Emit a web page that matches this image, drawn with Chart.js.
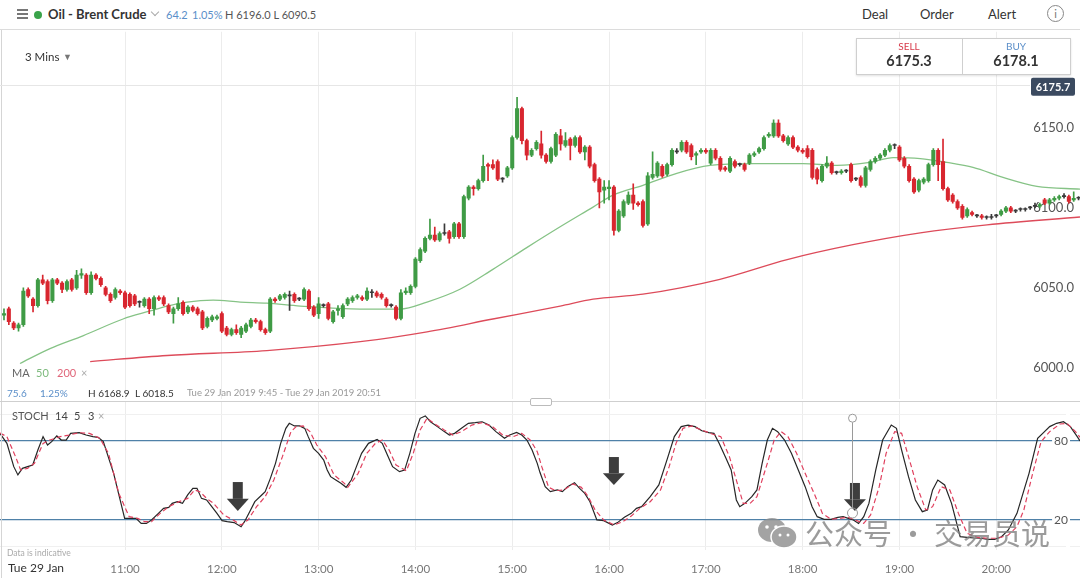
<!DOCTYPE html>
<html>
<head>
<meta charset="utf-8">
<script src="https://cdn.jsdelivr.net/npm/chart.js@4.4.0/dist/chart.umd.min.js"></script>
<style>
  body { margin:0; width:1080px; height:578px; overflow:hidden; background:#fff; position:relative; font-family: Lato, "Open Sans", sans-serif; }
  canvas { position:absolute; left:0; }
  .t { position:absolute; white-space:nowrap; line-height:1; }
  .ln { position:absolute; }
</style>
</head>
<body>
<canvas id="price" width="1080" height="371" style="top:30px"></canvas>
<canvas id="stoch" width="1080" height="176" style="top:402px"></canvas>

<!-- header -->
<div class="ln" style="left:17px;top:9px;width:11px;height:1.5px;background:#777"></div>
<div class="ln" style="left:17px;top:13px;width:11px;height:1.5px;background:#777"></div>
<div class="ln" style="left:17px;top:17px;width:11px;height:1.5px;background:#777"></div>
<div class="ln" style="left:34px;top:11px;width:8px;height:8px;border-radius:50%;background:#3aa34a"></div>
<div class="t" style="left:48px;top:8px;font-size:13px;font-weight:bold;color:#333">Oil - Brent Crude</div>
<div class="ln" style="left:152px;top:9px;width:5px;height:5px;border-right:1.2px solid #aaa;border-bottom:1.2px solid #aaa;transform:rotate(45deg)"></div>
<div class="t" style="left:166px;top:9px;font-size:11px;color:#5b8fc9">64.2</div>
<div class="t" style="left:192px;top:9px;font-size:11px;color:#5b8fc9">1.05%</div>
<div class="t" style="left:225px;top:9px;font-size:11px;color:#555">H 6196.0 L 6090.5</div>
<div class="t" style="left:862px;top:8px;font-size:13px;color:#333">Deal</div>
<div class="t" style="left:920px;top:8px;font-size:13px;color:#333">Order</div>
<div class="t" style="left:988px;top:8px;font-size:13px;color:#333">Alert</div>
<div class="ln" style="left:1047px;top:5px;width:15px;height:15px;border:1px solid #888;border-radius:50%;text-align:center;font-size:11px;line-height:15px;color:#777">i</div>
<div class="ln" style="left:0;top:29px;width:1080px;height:1px;background:#dcdcdc"></div>
<div class="ln" style="left:1px;top:30px;width:1px;height:548px;background:#d5d5d5"></div>

<div class="t" style="left:25px;top:51px;font-size:11.5px;color:#333">3 Mins</div>
<div class="t" style="left:63px;top:52px;font-size:9px;color:#777">&#9660;</div>
<div class="ln" style="left:0;top:85px;width:1030px;height:1px;background:#e6e6e6"></div>

<div class="ln" style="left:856px;top:38px;width:213px;height:35px;border:1px solid #cfcfcf;background:#fff;box-shadow:0 1px 2px rgba(0,0,0,0.12)"></div>
<div class="ln" style="left:962px;top:39px;width:1px;height:35px;background:#cfcfcf"></div>
<div class="t" style="left:856px;width:106px;text-align:center;top:41px;font-size:10px;color:#d63a4a">SELL</div>
<div class="t" style="left:856px;width:106px;text-align:center;top:54px;font-size:14.5px;font-weight:bold;color:#333">6175.3</div>
<div class="t" style="left:963px;width:106px;text-align:center;top:41px;font-size:10px;color:#5b8fc9">BUY</div>
<div class="t" style="left:963px;width:106px;text-align:center;top:54px;font-size:14.5px;font-weight:bold;color:#333">6178.1</div>

<!-- main panel legends -->
<div class="t" style="left:12px;top:367px;font-size:11px;color:#666">MA</div>
<div class="t" style="left:36px;top:367px;font-size:11px;color:#7dba7d">50</div>
<div class="t" style="left:57px;top:367px;font-size:11px;color:#e0667a">200</div>
<div class="t" style="left:81px;top:367px;font-size:11px;color:#aaa">&#215;</div>
<div class="t" style="left:7px;top:388px;font-size:10px;color:#5b8fc9">75.6</div>
<div class="t" style="left:40px;top:388px;font-size:10px;color:#5b8fc9">1.25%</div>
<div class="t" style="left:88px;top:388px;font-size:10px;color:#333">H 6168.9</div>
<div class="t" style="left:135px;top:388px;font-size:10px;color:#333">L 6018.5</div>
<div class="t" style="left:187px;top:388px;font-size:9.5px;color:#999">Tue 29 Jan 2019 9:45 - Tue 29 Jan 2019 20:51</div>

<div class="ln" style="left:0;top:401px;width:1080px;height:1px;background:#cfcfcf"></div>
<div class="ln" style="left:530px;top:398px;width:20px;height:6px;border:1px solid #bbb;border-radius:2px;background:#fff"></div>

<!-- stoch panel legends -->
<div class="t" style="left:12px;top:410px;font-size:11px;color:#555">STOCH</div>
<div class="t" style="left:55px;top:410px;font-size:11px;color:#444">14</div>
<div class="t" style="left:74px;top:410px;font-size:11px;color:#444">5</div>
<div class="t" style="left:88px;top:410px;font-size:11px;color:#444">3</div>
<div class="t" style="left:98px;top:410px;font-size:11px;color:#aaa">&#215;</div>
<div class="t" style="left:7px;top:549px;font-size:8.5px;color:#aaa">Data is indicative</div>
<div class="t" style="left:8px;top:562px;font-size:12px;color:#333">Tue 29 Jan</div>

<!-- watermark -->
<svg style="position:absolute;left:757px;top:517px;opacity:0.8" width="42" height="32" viewBox="0 0 42 32">
  <ellipse cx="15" cy="13" rx="14" ry="12" fill="#8d8d8d"/>
  <ellipse cx="27" cy="20" rx="13" ry="11" fill="#8d8d8d" stroke="#fff" stroke-width="1.5"/>
  <circle cx="10" cy="10" r="1.8" fill="#fff"/><circle cx="19" cy="10" r="1.8" fill="#fff"/>
  <circle cx="23" cy="18" r="1.5" fill="#fff"/><circle cx="31" cy="18" r="1.5" fill="#fff"/>
</svg>
<div class="t" style="left:805px;top:518px;font-size:29px;color:rgba(130,130,130,0.8);font-family:'Noto Sans CJK SC'">公众号 · 交易员说</div>

<script>
// 3-minute bars, bar 0 = 9:45
const hourBars = [25, 45, 65, 85, 105, 125, 145, 165, 185, 205];
const hourLabels = ['11:00', '12:00', '13:00', '14:00', '15:00', '16:00', '17:00', '18:00', '19:00', '20:00'];
const priceTicks = [6000, 6050, 6100, 6150];
const stochLevels = [0, 20, 80, 100];
const lastPrice = 6175.7;

const opens = [6033,6037,6028,6025,6027,6049,6043,6039,6055,6054, 6042,6055,6053,6049,6055,6050,6058,6058,6047,6058,
  6056,6050,6046,6044,6048,6047,6046,6045,6041,6039, 6043,6037,6044,6044,6039,6034,6037,6041,6035,6038,
  6037,6035,6026,6030,6031,6034,6025,6021,6024,6021, 6023,6026,6030,6029,6024,6023,6043,6043,6044,6045,
  6046,6043,6043,6048,6038,6034,6039,6040,6029,6036, 6032,6040,6042,6044,6044,6043,6047,6047,6046,6043,
  6039,6038,6031,6047,6047,6051,6067,6073,6081,6083, 6080,6084,6085,6082,6090,6082,6106,6113,6112,6117,
  6127,6127,6129,6118,6120,6125,6144,6162,6142,6133, 6137,6140,6133,6129,6133,6145,6139,6143,6139,6144,
  6135,6138,6127,6118,6111,6112,6113,6086,6095,6103, 6108,6103,6104,6090,6119,6120,6126,6121,6127,6135,
  6136,6141,6139,6133,6135,6136,6128,6136,6131,6125, 6123,6129,6127,6127,6128,6133,6135,6137,6145,6145,
  6153,6145,6140,6144,6138,6136,6137,6136,6124,6117, 6126,6128,6122,6122,6123,6127,6118,6119,6114,6124,
  6129,6131,6133,6136,6139,6138,6131,6126,6118,6111, 6116,6117,6127,6136,6129,6112,6108,6104,6101,6095,
  6097,6095,6095,6094,6094,6095,6096,6098,6100,6098, 6099,6099,6100,6101,6101,6105,6103,6105,6106,6107,
  6107,6105,6106];
const highs = [6037,6038,6029,6028,6050,6050,6044,6056,6058,6055, 6056,6056,6054,6055,6056,6061,6062,6059,6060,6059,
  6057,6051,6047,6050,6049,6048,6047,6046,6042,6044, 6044,6045,6045,6045,6040,6038,6044,6042,6039,6039,
  6038,6036,6032,6033,6033,6035,6026,6025,6027,6026, 6028,6031,6031,6030,6025,6044,6044,6046,6047,6048,
  6047,6044,6050,6049,6039,6044,6040,6041,6036,6039, 6040,6044,6045,6046,6045,6050,6049,6048,6047,6044,
  6040,6039,6049,6050,6052,6069,6075,6082,6093,6088, 6085,6090,6086,6091,6091,6108,6114,6114,6118,6133,
  6128,6130,6130,6119,6126,6145,6169,6163,6143,6137, 6142,6148,6134,6138,6147,6149,6147,6144,6145,6145,
  6139,6139,6128,6119,6117,6117,6114,6099,6105,6110, 6115,6104,6105,6122,6135,6129,6127,6128,6137,6137,
  6142,6142,6140,6135,6137,6137,6137,6137,6132,6126, 6132,6130,6128,6128,6134,6135,6138,6145,6147,6155,
  6155,6146,6145,6145,6139,6137,6139,6137,6125,6127, 6132,6129,6123,6124,6124,6128,6119,6120,6126,6130,
  6132,6134,6137,6140,6140,6139,6132,6127,6119,6118, 6119,6128,6137,6137,6143,6113,6109,6105,6102,6100,
  6098,6096,6096,6095,6096,6096,6099,6101,6101,6099, 6100,6100,6101,6103,6103,6106,6106,6107,6108,6109,
  6108,6110,6107];
const lows = [6030,6027,6024,6023,6026,6044,6035,6038,6052,6040, 6041,6052,6047,6048,6048,6049,6056,6046,6046,6055,
  6051,6045,6041,6043,6046,6037,6038,6039,6038,6038, 6034,6033,6042,6039,6034,6028,6036,6033,6034,6035,
  6033,6024,6025,6029,6030,6022,6020,6020,6021,6019, 6022,6025,6028,6023,6021,6022,6041,6042,6043,6036,
  6041,6042,6042,6036,6032,6031,6038,6030,6028,6033, 6031,6039,6041,6043,6042,6042,6044,6044,6043,6038,
  6038,6030,6030,6046,6046,6050,6066,6072,6080,6079, 6079,6083,6078,6081,6081,6081,6105,6108,6111,6116,
  6117,6124,6117,6116,6119,6124,6143,6140,6130,6132, 6136,6131,6128,6128,6132,6136,6138,6130,6138,6134,
  6130,6125,6116,6100,6103,6105,6083,6085,6094,6102, 6099,6101,6088,6089,6118,6119,6119,6120,6126,6134,
  6135,6134,6130,6127,6134,6134,6127,6130,6123,6123, 6122,6125,6126,6123,6127,6132,6134,6136,6144,6144,
  6144,6141,6139,6137,6135,6134,6131,6118,6115,6116, 6125,6121,6121,6121,6122,6116,6117,6113,6113,6123,
  6128,6130,6132,6135,6137,6129,6125,6116,6109,6110, 6115,6116,6126,6117,6111,6104,6103,6099,6093,6094,
  6095,6094,6093,6093,6093,6094,6095,6097,6097,6097, 6098,6098,6099,6100,6100,6102,6102,6104,6105,6106,
  6103,6104,6105];
const closes = [6034,6029,6025,6027,6048,6045,6039,6055,6053,6042, 6055,6053,6049,6054,6049,6058,6059,6047,6058,6056,
  6052,6046,6042,6049,6047,6038,6039,6040,6041,6043, 6037,6044,6043,6040,6035,6037,6040,6034,6038,6036,
  6034,6025,6031,6032,6032,6023,6021,6024,6022,6025, 6027,6030,6029,6024,6022,6043,6042,6045,6046,6045,
  6042,6043,6049,6037,6033,6040,6039,6031,6035,6037, 6039,6043,6044,6045,6043,6048,6047,6045,6044,6039,
  6039,6031,6047,6048,6051,6068,6074,6081,6083,6080, 6084,6084,6081,6090,6082,6107,6113,6112,6117,6126,
  6126,6125,6118,6118,6125,6144,6162,6142,6133,6136, 6141,6133,6129,6137,6146,6140,6142,6139,6144,6135,
  6138,6126,6117,6110,6113,6113,6086,6098,6104,6108, 6103,6102,6089,6120,6121,6128,6120,6127,6136,6135,
  6141,6135,6132,6134,6136,6135,6136,6131,6124,6124, 6131,6126,6127,6124,6133,6134,6137,6144,6146,6153,
  6145,6142,6144,6138,6136,6135,6132,6119,6118,6126, 6128,6122,6122,6123,6123,6117,6118,6114,6125,6129,
  6131,6133,6136,6139,6139,6130,6126,6117,6110,6117, 6118,6127,6136,6127,6112,6105,6104,6100,6094,6099,
  6096,6095,6094,6094,6094,6095,6098,6100,6098,6098, 6099,6099,6100,6101,6102,6103,6105,6106,6107,6107,
  6104,6106,6106];

// moving averages, read at a handful of bars
const ma50Bars = [3.3, 9.5, 16.3, 24.6, 30.2, 33.7, 37.8, 43.2, 48.8, 54.3, 61.2, 73.6, 81.8, 87.4, 94.2, 101, 108,
  114.9, 121.7, 125.8, 132, 139, 145.9, 154.8, 165.1, 172.1, 178.9, 183.7, 189.3, 194.8, 200.2, 206.4, 213.4, 222.3];
const ma50Vals = [6002.8, 6012.1, 6020.1, 6030.6, 6035.6, 6038.7, 6041.2, 6042.4, 6041.2, 6040.5, 6038.7, 6036.8, 6036.8,
  6041.2, 6049.2, 6061.6, 6075.2, 6088.2, 6100.5, 6108, 6114.1, 6121.6, 6126.5, 6127.7, 6127.7, 6126.5, 6128.4, 6131.4,
  6130.8, 6128.4, 6125.3, 6119.1, 6113.5, 6111.7];
const ma200Bars = [17.8, 33.7, 54.3, 73.6, 87.4, 101, 114.9, 121.7, 132, 147.9, 161.8, 175.4, 189.3, 203.1, 222.3];
const ma200Vals = [6004, 6007.8, 6010.9, 6016.4, 6022.6, 6030.6, 6038.7, 6043, 6046.1, 6055.4, 6067.7, 6077, 6084.4,
  6089.4, 6094.3];

// stochastic 14,5,3
const stochKBars = [-0.83, 0.6, 2.02, 2.87, 3.8, 4.87, 5.93, 7, 8.07, 9, 9.85, 10.91, 11.84, 12.84, 13.76, 15.54, 16.96,
  18.38, 19.45, 20.52, 22.65, 24.93, 26.21, 27.28, 28.34, 29.41, 30.48, 31.9, 32.97, 34.04, 34.75, 35.82, 36.88, 37.95,
  39.02, 39.87, 40.8, 41.86, 42.93, 44, 45.06, 46.13, 47.55, 48.98, 49.69, 50.76, 51.82, 53.25, 53.96, 55.03, 56.09,
  57.16, 58.23, 58.94, 60, 61.07, 62.14, 62.85, 63.92, 64.99, 66.05, 66.77, 67.48, 68.55, 69.61, 70.68, 71.75, 72.81,
  73.88, 75.3, 77.08, 78.15, 79.21, 80.28, 81.71, 82.77, 83.84, 84.91, 85.97, 87.04, 88.11, 89.53, 90.96, 92.02, 93.09,
  94.51, 95.94, 97.36, 98.78, 100.2, 101.63, 103.4, 104.47, 105.9, 106.97, 108.03, 109.1, 110.17, 110.74, 111.81, 112.87,
  114.3, 115.37, 116.43, 117.86, 118.92, 119.99, 121.06, 122.48, 123.9, 125.68, 126.75, 128.17, 129.6, 130.66, 131.73,
  133.51, 135.29, 137.07, 138.49, 139.91, 141.33, 142.76, 144.18, 145.6, 146.67, 147.74, 149.16, 150.23, 151.3, 152.01,
  153.07, 154.5, 155.56, 156.63, 157.7, 158.77, 159.83, 161.26, 162.68, 164.1, 165.52, 166.95, 168.01, 169.44, 170.86,
  172.28, 173.35, 174.42, 175.48, 176.55, 177.62, 178.69, 180.11, 181.53, 183.31, 184.38, 185.45, 186.87, 188.29, 189.72,
  190.78, 191.85, 192.92, 194.34, 195.76, 197.54, 198.97, 200.39, 201.81, 203.24, 204.66, 206.08, 207.5, 209.28, 211.77,
  213.55, 214.97, 216.04, 217.46, 218.89, 220.31, 221.73, 222.3];
const stochKVals = [85.8, 78.2, 60.5, 54.2, 59.2, 60.5, 61.7, 73.1, 83.3, 76.9, 79.5, 83.8, 80.7, 80.7, 85.8, 86.3, 84.5,
  83.3, 82.8, 79.5, 55.4, 21.2, 21.2, 21.2, 17.4, 17.4, 20, 25, 28.8, 29.6, 32.6, 33.9, 32.6, 39, 44, 44, 36.4, 35.2,
  30.1, 25, 19.5, 18.7, 18, 14.9, 18.7, 26.3, 33.9, 39, 41.5, 51.6, 63, 78.2, 89.6, 93.4, 91.4, 91.4, 89.6, 83.3, 74.4,
  70.6, 65.5, 57.9, 52.9, 50.3, 47.8, 44.8, 50.3, 60.5, 70.6, 78.2, 81.2, 78.2, 69.3, 60.5, 56.7, 57.9, 70.6, 85.8, 97.2,
  99, 94.6, 90.9, 87.1, 84.5, 85.8, 89.6, 93.4, 93.9, 94.6, 92.1, 87.1, 82, 84.5, 86.5, 84.5, 80.7, 73.1, 63, 56, 45.3,
  41.5, 42.8, 41.5, 45.3, 48.3, 44, 40.2, 33.9, 20, 19.5, 16.2, 18, 22, 25, 28.8, 30.1, 37.7, 46.6, 66.8, 83.3, 90.9,
  92.1, 90.9, 87.8, 86.3, 85.8, 78.2, 66.8, 58, 35.2, 30.1, 32.6, 37.7, 42.8, 63, 80.7, 89.6, 87.1, 80.7, 70.6, 58, 45.3,
  30.1, 22.5, 20.5, 20.5, 22, 22.5, 21.2, 20, 17.4, 22.5, 32.6, 58, 80.7, 92.1, 89.6, 73.1, 52.9, 35.2, 26.3, 27.6, 42.8,
  50.3, 46.6, 32.6, 7.3, 6.8, 6.3, 6.1, 5.3, 5.3, 7.3, 12.4, 25, 55.4, 82, 87.1, 90.9, 93.4, 94.6, 90.9, 83.3, 80];
const stochDBars = [-0.83, 0.6, 2.38, 3.44, 4.87, 6.29, 8.07, 9.49, 11.62, 13.4, 15.54, 17.67, 19.81, 21.59, 23.72, 25.86,
  27.63, 29.06, 30.48, 32.26, 34.04, 36.17, 37.95, 39.37, 40.44, 41.86, 43.29, 45.42, 47.55, 48.98, 50.4, 52.18, 53.96,
  55.74, 57.52, 59.29, 60.36, 61.79, 63.21, 64.63, 66.41, 68.19, 70.32, 71.03, 73.17, 74.95, 76.73, 78.15, 79.57, 81,
  83.13, 84.55, 85.97, 87.4, 88.82, 90.96, 92.73, 94.51, 96.65, 98.78, 100.92, 103.05, 105.19, 106.97, 108.74, 110.17,
  111.1, 112.52, 113.94, 115.72, 117.5, 119.28, 120.7, 122.12, 123.9, 126.04, 127.82, 129.6, 131.37, 133.51, 135.64,
  137.42, 138.84, 140.27, 142.05, 144.18, 146.31, 148.09, 149.87, 151.3, 152.72, 154.14, 155.56, 157.7, 159.12, 160.54,
  161.97, 163.75, 165.52, 167.66, 169.08, 170.86, 172.64, 174.42, 176.2, 177.62, 179.04, 180.82, 182.24, 184.02, 185.45,
  186.87, 188.65, 190.43, 191.85, 193.63, 195.41, 197.18, 198.97, 201.1, 203.24, 205.37, 207.5, 209.28, 210.7, 212.52,
  214.26, 216.04, 218.18, 219.6, 221.38, 222.3];
const stochDVals = [86, 83.3, 68.1, 58, 59.2, 63, 78.2, 80.7, 83.3, 84.5, 86.3, 85.8, 82, 70.6, 40.2, 22.5, 21.2, 18.7,
  18.7, 25, 30.1, 33.9, 36.4, 42.8, 41.5, 36.4, 32.6, 23.8, 19.5, 16.2, 20, 30.1, 37.7, 50.3, 68.1, 87.1, 90.9, 91.4,
  87.1, 76.9, 68.1, 54.2, 47.8, 44.8, 55.4, 70.6, 78.2, 80.7, 73.1, 61.7, 57.4, 70.6, 88.3, 97.2, 93.4, 88.3, 84.5, 87.1,
  92.1, 93.9, 90.9, 84.5, 83.3, 85.8, 80.7, 71.9, 60.5, 44.8, 42.3, 42.8, 47.3, 44.8, 37.7, 27.6, 20, 16.2, 18.7, 23,
  28.8, 33.9, 42.8, 60.5, 78.2, 89.6, 91.4, 88.3, 85.3, 83.3, 68.1, 50.3, 32.6, 32.6, 37.7, 63, 80.7, 87.1, 83.3, 70.6,
  55.4, 37.7, 25, 20.5, 21.2, 22, 19.5, 17.4, 23.8, 45.3, 70.6, 87.1, 85.8, 68.1, 45.3, 27.6, 30.1, 45.3, 42.8, 25, 9.9,
  6.8, 6.1, 6.1, 8.6, 14.9, 27.6, 55.4, 79.5, 87.1, 92.9, 93.4, 87.1, 82.8];

// annotations on the stochastic panel
const arrowBars = [48.3, 126, 175.8];
const arrowTops = [48.8, 67.8, 48.1];
const arrowTips = [26.8, 46.6, 26.8];
const markerBar = 175.3;
const markerTop = 97.3;
const markerBottom = 25.3;

const xMin = -0.826, xMax = 222.3;
const UP = '#3f9b45', DOWN = '#d8262f', FLAT = '#3a3a3a';

const bars = opens.map((_, i) => i);
const candleColors = bars.map(i => closes[i] > opens[i] ? UP : (closes[i] < opens[i] ? DOWN : FLAT));
const pts = (xs, ys) => xs.map((x, i) => ({ x: x, y: ys[i] }));

const lastPriceTag = {
  id: 'lastPriceTag',
  afterDraw(chart) {
    const { ctx, scales: { y } } = chart;
    const py = y.getPixelForValue(lastPrice);
    ctx.save();
    ctx.fillStyle = '#3b4a60';
    ctx.beginPath();
    ctx.roundRect(1031, py - 9, 44, 18, 2);
    ctx.fill();
    ctx.fillStyle = '#fff';
    ctx.font = 'bold 11px Lato';
    ctx.textAlign = 'center';
    ctx.textBaseline = 'middle';
    ctx.fillText(lastPrice.toFixed(1), 1053, py + 0.5);
    ctx.restore();
  }
};

const stochMarks = {
  id: 'stochMarks',
  afterDatasetsDraw(chart) {
    const { ctx, scales: { x, y } } = chart;
    ctx.save();
    arrowBars.forEach((b, k) => {
      const cx = x.getPixelForValue(b);
      const top = y.getPixelForValue(arrowTops[k]);
      const tip = y.getPixelForValue(arrowTips[k]);
      const headH = (tip - top) * 0.42;
      ctx.fillStyle = '#3d3d3d';
      ctx.fillRect(cx - 5, top, 10, tip - top - headH);
      ctx.beginPath();
      ctx.moveTo(cx - 11, tip - headH);
      ctx.lineTo(cx + 11, tip - headH);
      ctx.lineTo(cx, tip);
      ctx.closePath();
      ctx.fill();
    });
    const mx = x.getPixelForValue(markerBar);
    const my1 = y.getPixelForValue(markerTop), my2 = y.getPixelForValue(markerBottom);
    ctx.strokeStyle = '#9a9a9a';
    ctx.lineWidth = 1;
    ctx.beginPath();
    ctx.moveTo(mx, my1 + 4);
    ctx.lineTo(mx, my2 - 5);
    ctx.stroke();
    ctx.fillStyle = '#fff';
    ctx.beginPath(); ctx.arc(mx, my1, 4, 0, Math.PI * 2); ctx.fill(); ctx.stroke();
    ctx.beginPath(); ctx.arc(mx, my2, 5, 0, Math.PI * 2); ctx.stroke();
    ctx.restore();
  }
};

new Chart(document.getElementById('price'), {
  type: 'bar',
  data: {
    datasets: [
      { type: 'line', data: pts(ma200Bars, ma200Vals), borderColor: '#dd4b5a', borderWidth: 1.3,
        pointRadius: 0, cubicInterpolationMode: 'monotone', order: 3 },
      { type: 'line', data: pts(ma50Bars, ma50Vals), borderColor: '#86c386', borderWidth: 1.3,
        pointRadius: 0, cubicInterpolationMode: 'monotone', order: 3 },
      { data: bars.map(i => ({ x: i, y: [lows[i], highs[i]] })), backgroundColor: candleColors,
        barThickness: 1, grouped: false, order: 1 },
      { data: bars.map(i => ({ x: i, y: [opens[i], closes[i]] })), backgroundColor: candleColors,
        barThickness: 3.4, minBarLength: 1, grouped: false, order: 0 }
    ]
  },
  options: {
    responsive: false, animation: false, events: [],
    layout: { padding: 0 },
    plugins: { legend: { display: false }, tooltip: { enabled: false } },
    scales: {
      x: {
        type: 'linear', min: xMin, max: xMax, offset: false,
        grid: { color: '#ececec', drawTicks: false, offset: false },
        border: { display: false },
        ticks: { display: false },
        afterBuildTicks: s => { s.ticks = hourBars.map(v => ({ value: v })); },
        afterFit: s => { s.height = 0; }
      },
      y: {
        position: 'right', min: 5980.5, max: 6210,
        grid: { display: false, drawTicks: false },
        border: { display: false },
        afterBuildTicks: s => { s.ticks = priceTicks.map(v => ({ value: v })); },
        ticks: { mirror: true, padding: -6, color: '#555', font: { family: 'Lato', size: 13 },
          callback: v => v.toFixed(1) },
        afterFit: s => { s.width = 0; }
      }
    }
  },
  plugins: [lastPriceTag]
});

new Chart(document.getElementById('stoch'), {
  type: 'line',
  data: {
    datasets: [
      { data: pts(stochDBars, stochDVals), borderColor: '#e0405e', borderWidth: 1.2, borderDash: [5, 3],
        pointRadius: 0, tension: 0 },
      { data: pts(stochKBars, stochKVals), borderColor: '#262626', borderWidth: 1.2, pointRadius: 0, tension: 0 }
    ]
  },
  options: {
    responsive: false, animation: false, events: [],
    layout: { padding: 0 },
    plugins: { legend: { display: false }, tooltip: { enabled: false } },
    scales: {
      x: {
        type: 'linear', min: xMin, max: xMax,
        grid: { color: '#ececec', drawTicks: false },
        border: { display: false },
        afterBuildTicks: s => { s.ticks = hourBars.map(v => ({ value: v })); },
        ticks: { padding: 12, color: '#777', autoSkip: false, maxRotation: 0,
          font: { family: 'Lato', size: 11.5 }, callback: (v, i) => hourLabels[i] },
        afterFit: s => { s.height = 28; }
      },
      y: {
        position: 'right', min: -2.81, max: 109.6,
        grid: { drawTicks: false,
          color: c => (c.tick && (c.tick.value === 20 || c.tick.value === 80)) ? '#4f81a8' : '#f0f0f0',
          lineWidth: c => (c.tick && (c.tick.value === 20 || c.tick.value === 80)) ? 1.3 : 1 },
        border: { display: false },
        afterBuildTicks: s => { s.ticks = stochLevels.map(v => ({ value: v })); },
        ticks: { mirror: true, padding: -12, color: '#555', font: { family: 'Lato', size: 12 },
          showLabelBackdrop: true, backdropColor: '#fff', backdropPadding: 2,
          callback: v => (v === 20 || v === 80) ? String(v) : '' },
        afterFit: s => { s.width = 0; }
      }
    }
  },
  plugins: [stochMarks]
});
</script>
</body>
</html>
